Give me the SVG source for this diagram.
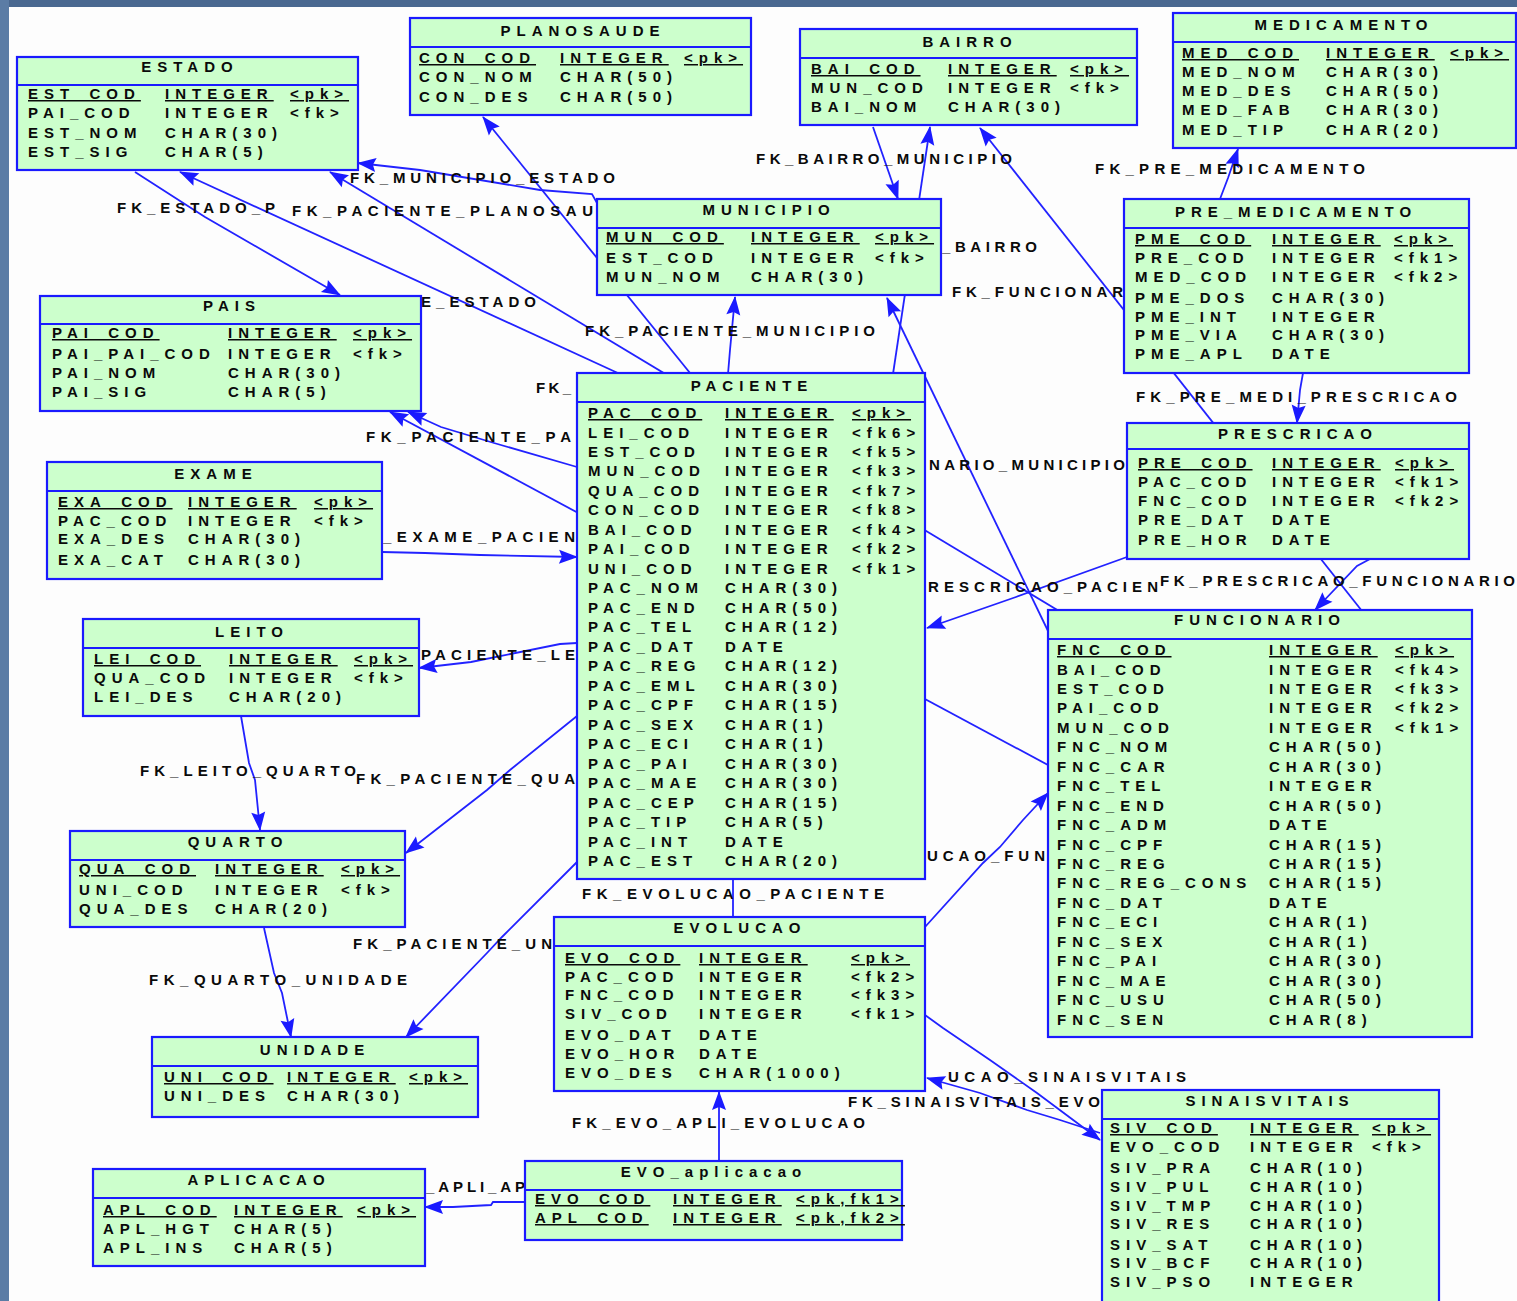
<svg xmlns="http://www.w3.org/2000/svg" width="1517" height="1301" viewBox="0 0 1517 1301">
<style>
.tb{fill:#ccffcc;stroke:#1a1aff;stroke-width:2.2}
.hl{stroke:#1a1aff;stroke-width:2}
.t{font-family:"Liberation Sans",Arial,sans-serif;font-weight:bold;font-size:15px;letter-spacing:6px;fill:#0a0a0a}
.pk{text-decoration:underline}
.ti{text-anchor:middle}
.cn{fill:none;stroke:#2222ff;stroke-width:1.8}
.ar{marker-end:url(#a)}
.lb{font-family:"Liberation Sans",Arial,sans-serif;font-weight:bold;font-size:15px;fill:#0a0a0a}
</style>
<defs>
<marker id="a" viewBox="-20 -9 22 18" refX="0" refY="0" markerWidth="22" markerHeight="18" markerUnits="userSpaceOnUse" orient="auto"><path d="M1,0 L-18,-7 L-15,0 L-18,7 Z" fill="#1a1aff"/></marker>
</defs>
<rect x="0" y="0" width="1517" height="1301" fill="#fdfdfd"/>
<rect x="0" y="0" width="1517" height="7" fill="#4a6890"/>
<rect x="0" y="0" width="9" height="1301" fill="#5b7ca5"/>

<g id="connectors">
<path class="cn ar" d="M597,203 L592,194 L540,190 L420,170 L358,163"/>
<path class="cn ar" d="M135,172 L205,217 L340,295"/>
<path class="cn ar" d="M690,373 L483,117"/>
<path class="cn ar" d="M620,374 L180,172"/>
<path class="cn ar" d="M728,374 L730,350 L735,297"/>
<path class="cn ar" d="M893,374 L930,127"/>
<path class="cn ar" d="M873,127 L898,199"/>
<path class="cn ar" d="M1362,611 L980,128"/>
<path class="cn ar" d="M1049,633 L887,298"/>
<path class="cn ar" d="M1220,199 L1228,178 L1238,149"/>
<path class="cn ar" d="M1303,373 L1300,390 L1297,423"/>
<path class="cn ar" d="M1127,557 L1016,597 L927,628"/>
<path class="cn ar" d="M1370,559 L1357,566 L1315,610"/>
<path class="cn ar" d="M1059,611 L330,172"/>
<path class="cn ar" d="M1048,765 L390,412"/>
<path class="cn ar" d="M577,467 L494,443 L441,427 L408,412"/>
<path class="cn ar" d="M382,552 L425,553 L480,555 L577,557"/>
<path class="cn ar" d="M577,643 L560,644 L471,662 L419,668"/>
<path class="cn ar" d="M241,716 L249,763 L255,780 L260,830"/>
<path class="cn ar" d="M577,716 L510,770 L487,790 L406,853"/>
<path class="cn ar" d="M264,928 L274,973 L282,993 L291,1037"/>
<path class="cn ar" d="M577,862 L502,937 L487,953 L406,1037"/>
<path class="cn" d="M733,917 L733,880"/>
<path class="cn ar" d="M925,927 L983,863 L1000,847 L1023,820 L1048,793"/>
<path class="cn ar" d="M925,1015 L943,1028 L990,1060 L1037,1093 L1100,1140"/>
<path class="cn ar" d="M1100,1133 L1060,1120 L1027,1110 L980,1093 L927,1078"/>
<path class="cn ar" d="M719,1161 L719,1092"/>
<path class="cn ar" d="M525,1202 L493,1202 L491,1205 L453,1207 L425,1207"/>

<text class="lb" x="350" y="183" textLength="265" lengthAdjust="spacing">FK_MUNICIPIO_ESTADO</text>
<text class="lb" x="117" y="213" textLength="158" lengthAdjust="spacing">FK_ESTADO_P</text>
<text class="lb" x="292" y="216" textLength="301" lengthAdjust="spacing">FK_PACIENTE_PLANOSAU</text>
<text class="lb" x="421" y="307" textLength="115" lengthAdjust="spacing">E_ESTADO</text>
<text class="lb" x="536" y="393" textLength="35" lengthAdjust="spacing">FK_</text>
<text class="lb" x="366" y="442" textLength="205" lengthAdjust="spacing">FK_PACIENTE_PA</text>
<text class="lb" x="383" y="542" textLength="192" lengthAdjust="spacing">_EXAME_PACIEN</text>
<text class="lb" x="421" y="660" textLength="154" lengthAdjust="spacing">PACIENTE_LE</text>
<text class="lb" x="140" y="776" textLength="216" lengthAdjust="spacing">FK_LEITO_QUARTO</text>
<text class="lb" x="356" y="784" textLength="219" lengthAdjust="spacing">FK_PACIENTE_QUA</text>
<text class="lb" x="353" y="949" textLength="199" lengthAdjust="spacing">FK_PACIENTE_UN</text>
<text class="lb" x="149" y="985" textLength="258" lengthAdjust="spacing">FK_QUARTO_UNIDADE</text>
<text class="lb" x="756" y="164" textLength="256" lengthAdjust="spacing">FK_BAIRRO_MUNICIPIO</text>
<text class="lb" x="942" y="252" textLength="95" lengthAdjust="spacing">_BAIRRO</text>
<text class="lb" x="952" y="297" textLength="171" lengthAdjust="spacing">FK_FUNCIONAR</text>
<text class="lb" x="585" y="336" textLength="290" lengthAdjust="spacing">FK_PACIENTE_MUNICIPIO</text>
<text class="lb" x="1095" y="174" textLength="270" lengthAdjust="spacing">FK_PRE_MEDICAMENTO</text>
<text class="lb" x="1136" y="402" textLength="321" lengthAdjust="spacing">FK_PRE_MEDI_PRESCRICAO</text>
<text class="lb" x="929" y="470" textLength="196" lengthAdjust="spacing">NARIO_MUNICIPIO</text>
<text class="lb" x="928" y="592" textLength="230" lengthAdjust="spacing">RESCRICAO_PACIEN</text>
<text class="lb" x="1160" y="586" textLength="355" lengthAdjust="spacing">FK_PRESCRICAO_FUNCIONARIO</text>
<text class="lb" x="927" y="861" textLength="118" lengthAdjust="spacing">UCAO_FUN</text>
<text class="lb" x="582" y="899" textLength="302" lengthAdjust="spacing">FK_EVOLUCAO_PACIENTE</text>
<text class="lb" x="948" y="1082" textLength="238" lengthAdjust="spacing">UCAO_SINAISVITAIS</text>
<text class="lb" x="848" y="1107" textLength="252" lengthAdjust="spacing">FK_SINAISVITAIS_EVO</text>
<text class="lb" x="572" y="1128" textLength="293" lengthAdjust="spacing">FK_EVO_APLI_EVOLUCAO</text>
<text class="lb" x="426" y="1192" textLength="99" lengthAdjust="spacing">_APLI_AP</text>
</g>

<g id="ESTADO">
<rect class="tb" x="17" y="57" width="341" height="113"/><line class="hl" x1="17" y1="85" x2="358" y2="85"/>
<text class="t ti" x="190" y="72">ESTADO</text>
<text class="t pk" x="28" y="99">EST_COD</text><text class="t pk" x="165" y="99">INTEGER</text><text class="t pk" x="290" y="99">&lt;pk&gt;</text>
<text class="t" x="28" y="118">PAI_COD</text><text class="t" x="165" y="118">INTEGER</text><text class="t" x="290" y="118">&lt;fk&gt;</text>
<text class="t" x="28" y="138">EST_NOM</text><text class="t" x="165" y="138">CHAR(30)</text>
<text class="t" x="28" y="157">EST_SIG</text><text class="t" x="165" y="157">CHAR(5)</text>
</g>

<g id="PLANOSAUDE">
<rect class="tb" x="410" y="18" width="341" height="97"/><line class="hl" x1="410" y1="47" x2="751" y2="47"/>
<text class="t ti" x="583" y="36">PLANOSAUDE</text>
<text class="t pk" x="419" y="63">CON_COD</text><text class="t pk" x="560" y="63">INTEGER</text><text class="t pk" x="684" y="63">&lt;pk&gt;</text>
<text class="t" x="419" y="82">CON_NOM</text><text class="t" x="560" y="82">CHAR(50)</text>
<text class="t" x="419" y="102">CON_DES</text><text class="t" x="560" y="102">CHAR(50)</text>
</g>

<g id="BAIRRO">
<rect class="tb" x="800" y="29" width="337" height="96"/><line class="hl" x1="800" y1="58" x2="1137" y2="58"/>
<text class="t ti" x="970" y="47">BAIRRO</text>
<text class="t pk" x="811" y="74">BAI_COD</text><text class="t pk" x="948" y="74">INTEGER</text><text class="t pk" x="1070" y="74">&lt;pk&gt;</text>
<text class="t" x="811" y="93">MUN_COD</text><text class="t" x="948" y="93">INTEGER</text><text class="t" x="1070" y="93">&lt;fk&gt;</text>
<text class="t" x="811" y="112">BAI_NOM</text><text class="t" x="948" y="112">CHAR(30)</text>
</g>

<g id="MEDICAMENTO">
<rect class="tb" x="1173" y="13" width="343" height="135"/><line class="hl" x1="1173" y1="42" x2="1516" y2="42"/>
<text class="t ti" x="1344" y="30">MEDICAMENTO</text>
<text class="t pk" x="1182" y="58">MED_COD</text><text class="t pk" x="1326" y="58">INTEGER</text><text class="t pk" x="1450" y="58">&lt;pk&gt;</text>
<text class="t" x="1182" y="77">MED_NOM</text><text class="t" x="1326" y="77">CHAR(30)</text>
<text class="t" x="1182" y="96">MED_DES</text><text class="t" x="1326" y="96">CHAR(50)</text>
<text class="t" x="1182" y="115">MED_FAB</text><text class="t" x="1326" y="115">CHAR(30)</text>
<text class="t" x="1182" y="135">MED_TIP</text><text class="t" x="1326" y="135">CHAR(20)</text>
</g>

<g id="MUNICIPIO">
<rect class="tb" x="597" y="199" width="344" height="96"/><line class="hl" x1="597" y1="228" x2="941" y2="228"/>
<text class="t ti" x="769" y="215">MUNICIPIO</text>
<text class="t pk" x="606" y="242">MUN_COD</text><text class="t pk" x="751" y="242">INTEGER</text><text class="t pk" x="875" y="242">&lt;pk&gt;</text>
<text class="t" x="606" y="263">EST_COD</text><text class="t" x="751" y="263">INTEGER</text><text class="t" x="875" y="263">&lt;fk&gt;</text>
<text class="t" x="606" y="282">MUN_NOM</text><text class="t" x="751" y="282">CHAR(30)</text>
</g>

<g id="PRE_MEDICAMENTO">
<rect class="tb" x="1124" y="199" width="345" height="174"/><line class="hl" x1="1124" y1="228" x2="1469" y2="228"/>
<text class="t ti" x="1296" y="217">PRE_MEDICAMENTO</text>
<text class="t pk" x="1135" y="244">PME_COD</text><text class="t pk" x="1272" y="244">INTEGER</text><text class="t pk" x="1394" y="244">&lt;pk&gt;</text>
<text class="t" x="1135" y="263">PRE_COD</text><text class="t" x="1272" y="263">INTEGER</text><text class="t" x="1394" y="263">&lt;fk1&gt;</text>
<text class="t" x="1135" y="282">MED_COD</text><text class="t" x="1272" y="282">INTEGER</text><text class="t" x="1394" y="282">&lt;fk2&gt;</text>
<text class="t" x="1135" y="303">PME_DOS</text><text class="t" x="1272" y="303">CHAR(30)</text>
<text class="t" x="1135" y="322">PME_INT</text><text class="t" x="1272" y="322">INTEGER</text>
<text class="t" x="1135" y="340">PME_VIA</text><text class="t" x="1272" y="340">CHAR(30)</text>
<text class="t" x="1135" y="359">PME_APL</text><text class="t" x="1272" y="359">DATE</text>
</g>

<g id="PAIS">
<rect class="tb" x="40" y="296" width="381" height="115"/><line class="hl" x1="40" y1="324" x2="421" y2="324"/>
<text class="t ti" x="232" y="311">PAIS</text>
<text class="t pk" x="52" y="338">PAI_COD</text><text class="t pk" x="228" y="338">INTEGER</text><text class="t pk" x="353" y="338">&lt;pk&gt;</text>
<text class="t" x="52" y="359">PAI_PAI_COD</text><text class="t" x="228" y="359">INTEGER</text><text class="t" x="353" y="359">&lt;fk&gt;</text>
<text class="t" x="52" y="378">PAI_NOM</text><text class="t" x="228" y="378">CHAR(30)</text>
<text class="t" x="52" y="397">PAI_SIG</text><text class="t" x="228" y="397">CHAR(5)</text>
</g>

<g id="EXAME">
<rect class="tb" x="47" y="462" width="335" height="117"/><line class="hl" x1="47" y1="491" x2="382" y2="491"/>
<text class="t ti" x="216" y="479">EXAME</text>
<text class="t pk" x="58" y="507">EXA_COD</text><text class="t pk" x="188" y="507">INTEGER</text><text class="t pk" x="314" y="507">&lt;pk&gt;</text>
<text class="t" x="58" y="526">PAC_COD</text><text class="t" x="188" y="526">INTEGER</text><text class="t" x="314" y="526">&lt;fk&gt;</text>
<text class="t" x="58" y="544">EXA_DES</text><text class="t" x="188" y="544">CHAR(30)</text>
<text class="t" x="58" y="565">EXA_CAT</text><text class="t" x="188" y="565">CHAR(30)</text>
</g>

<g id="LEITO">
<rect class="tb" x="83" y="619" width="336" height="97"/><line class="hl" x1="83" y1="648" x2="419" y2="648"/>
<text class="t ti" x="252" y="637">LEITO</text>
<text class="t pk" x="94" y="664">LEI_COD</text><text class="t pk" x="229" y="664">INTEGER</text><text class="t pk" x="354" y="664">&lt;pk&gt;</text>
<text class="t" x="94" y="683">QUA_COD</text><text class="t" x="229" y="683">INTEGER</text><text class="t" x="354" y="683">&lt;fk&gt;</text>
<text class="t" x="94" y="702">LEI_DES</text><text class="t" x="229" y="702">CHAR(20)</text>
</g>

<g id="QUARTO">
<rect class="tb" x="70" y="831" width="335" height="96"/><line class="hl" x1="70" y1="860" x2="405" y2="860"/>
<text class="t ti" x="238" y="847">QUARTO</text>
<text class="t pk" x="79" y="874">QUA_COD</text><text class="t pk" x="215" y="874">INTEGER</text><text class="t pk" x="341" y="874">&lt;pk&gt;</text>
<text class="t" x="79" y="895">UNI_COD</text><text class="t" x="215" y="895">INTEGER</text><text class="t" x="341" y="895">&lt;fk&gt;</text>
<text class="t" x="79" y="914">QUA_DES</text><text class="t" x="215" y="914">CHAR(20)</text>
</g>

<g id="UNIDADE">
<rect class="tb" x="152" y="1037" width="326" height="80"/><line class="hl" x1="152" y1="1066" x2="478" y2="1066"/>
<text class="t ti" x="315" y="1055">UNIDADE</text>
<text class="t pk" x="164" y="1082">UNI_COD</text><text class="t pk" x="287" y="1082">INTEGER</text><text class="t pk" x="409" y="1082">&lt;pk&gt;</text>
<text class="t" x="164" y="1101">UNI_DES</text><text class="t" x="287" y="1101">CHAR(30)</text>
</g>

<g id="PACIENTE">
<rect class="tb" x="577" y="373" width="348" height="506"/><line class="hl" x1="577" y1="402" x2="925" y2="402"/>
<text class="t ti" x="752" y="391">PACIENTE</text>
<text class="t pk" x="588" y="418">PAC_COD</text><text class="t pk" x="725" y="418">INTEGER</text><text class="t pk" x="852" y="418">&lt;pk&gt;</text>
<text class="t" x="588" y="437.5">LEI_COD</text><text class="t" x="725" y="437.5">INTEGER</text><text class="t" x="852" y="437.5">&lt;fk6&gt;</text>
<text class="t" x="588" y="457">EST_COD</text><text class="t" x="725" y="457">INTEGER</text><text class="t" x="852" y="457">&lt;fk5&gt;</text>
<text class="t" x="588" y="476.4">MUN_COD</text><text class="t" x="725" y="476.4">INTEGER</text><text class="t" x="852" y="476.4">&lt;fk3&gt;</text>
<text class="t" x="588" y="495.9">QUA_COD</text><text class="t" x="725" y="495.9">INTEGER</text><text class="t" x="852" y="495.9">&lt;fk7&gt;</text>
<text class="t" x="588" y="515.4">CON_COD</text><text class="t" x="725" y="515.4">INTEGER</text><text class="t" x="852" y="515.4">&lt;fk8&gt;</text>
<text class="t" x="588" y="534.9">BAI_COD</text><text class="t" x="725" y="534.9">INTEGER</text><text class="t" x="852" y="534.9">&lt;fk4&gt;</text>
<text class="t" x="588" y="554.4">PAI_COD</text><text class="t" x="725" y="554.4">INTEGER</text><text class="t" x="852" y="554.4">&lt;fk2&gt;</text>
<text class="t" x="588" y="573.8">UNI_COD</text><text class="t" x="725" y="573.8">INTEGER</text><text class="t" x="852" y="573.8">&lt;fk1&gt;</text>
<text class="t" x="588" y="593.3">PAC_NOM</text><text class="t" x="725" y="593.3">CHAR(30)</text>
<text class="t" x="588" y="612.8">PAC_END</text><text class="t" x="725" y="612.8">CHAR(50)</text>
<text class="t" x="588" y="632.3">PAC_TEL</text><text class="t" x="725" y="632.3">CHAR(12)</text>
<text class="t" x="588" y="651.8">PAC_DAT</text><text class="t" x="725" y="651.8">DATE</text>
<text class="t" x="588" y="671.2">PAC_REG</text><text class="t" x="725" y="671.2">CHAR(12)</text>
<text class="t" x="588" y="690.7">PAC_EML</text><text class="t" x="725" y="690.7">CHAR(30)</text>
<text class="t" x="588" y="710.2">PAC_CPF</text><text class="t" x="725" y="710.2">CHAR(15)</text>
<text class="t" x="588" y="729.7">PAC_SEX</text><text class="t" x="725" y="729.7">CHAR(1)</text>
<text class="t" x="588" y="749.2">PAC_ECI</text><text class="t" x="725" y="749.2">CHAR(1)</text>
<text class="t" x="588" y="768.6">PAC_PAI</text><text class="t" x="725" y="768.6">CHAR(30)</text>
<text class="t" x="588" y="788.1">PAC_MAE</text><text class="t" x="725" y="788.1">CHAR(30)</text>
<text class="t" x="588" y="807.6">PAC_CEP</text><text class="t" x="725" y="807.6">CHAR(15)</text>
<text class="t" x="588" y="827.1">PAC_TIP</text><text class="t" x="725" y="827.1">CHAR(5)</text>
<text class="t" x="588" y="846.6">PAC_INT</text><text class="t" x="725" y="846.6">DATE</text>
<text class="t" x="588" y="866">PAC_EST</text><text class="t" x="725" y="866">CHAR(20)</text>
</g>

<g id="PRESCRICAO">
<rect class="tb" x="1127" y="423" width="342" height="136"/><line class="hl" x1="1127" y1="449" x2="1469" y2="449"/>
<text class="t ti" x="1298" y="439">PRESCRICAO</text>
<text class="t pk" x="1138" y="468">PRE_COD</text><text class="t pk" x="1272" y="468">INTEGER</text><text class="t pk" x="1395" y="468">&lt;pk&gt;</text>
<text class="t" x="1138" y="487">PAC_COD</text><text class="t" x="1272" y="487">INTEGER</text><text class="t" x="1395" y="487">&lt;fk1&gt;</text>
<text class="t" x="1138" y="506">FNC_COD</text><text class="t" x="1272" y="506">INTEGER</text><text class="t" x="1395" y="506">&lt;fk2&gt;</text>
<text class="t" x="1138" y="525">PRE_DAT</text><text class="t" x="1272" y="525">DATE</text>
<text class="t" x="1138" y="545">PRE_HOR</text><text class="t" x="1272" y="545">DATE</text>
</g>

<g id="FUNCIONARIO">
<rect class="tb" x="1048" y="610" width="424" height="427"/><line class="hl" x1="1048" y1="639" x2="1472" y2="639"/>
<text class="t ti" x="1260" y="625">FUNCIONARIO</text>
<text class="t pk" x="1057" y="655">FNC_COD</text><text class="t pk" x="1269" y="655">INTEGER</text><text class="t pk" x="1395" y="655">&lt;pk&gt;</text>
<text class="t" x="1057" y="674.5">BAI_COD</text><text class="t" x="1269" y="674.5">INTEGER</text><text class="t" x="1395" y="674.5">&lt;fk4&gt;</text>
<text class="t" x="1057" y="693.9">EST_COD</text><text class="t" x="1269" y="693.9">INTEGER</text><text class="t" x="1395" y="693.9">&lt;fk3&gt;</text>
<text class="t" x="1057" y="713.4">PAI_COD</text><text class="t" x="1269" y="713.4">INTEGER</text><text class="t" x="1395" y="713.4">&lt;fk2&gt;</text>
<text class="t" x="1057" y="732.8">MUN_COD</text><text class="t" x="1269" y="732.8">INTEGER</text><text class="t" x="1395" y="732.8">&lt;fk1&gt;</text>
<text class="t" x="1057" y="752.3">FNC_NOM</text><text class="t" x="1269" y="752.3">CHAR(50)</text>
<text class="t" x="1057" y="771.7">FNC_CAR</text><text class="t" x="1269" y="771.7">CHAR(30)</text>
<text class="t" x="1057" y="791.2">FNC_TEL</text><text class="t" x="1269" y="791.2">INTEGER</text>
<text class="t" x="1057" y="810.6">FNC_END</text><text class="t" x="1269" y="810.6">CHAR(50)</text>
<text class="t" x="1057" y="830.1">FNC_ADM</text><text class="t" x="1269" y="830.1">DATE</text>
<text class="t" x="1057" y="849.5">FNC_CPF</text><text class="t" x="1269" y="849.5">CHAR(15)</text>
<text class="t" x="1057" y="869">FNC_REG</text><text class="t" x="1269" y="869">CHAR(15)</text>
<text class="t" x="1057" y="888.4">FNC_REG_CONS</text><text class="t" x="1269" y="888.4">CHAR(15)</text>
<text class="t" x="1057" y="907.9">FNC_DAT</text><text class="t" x="1269" y="907.9">DATE</text>
<text class="t" x="1057" y="927.3">FNC_ECI</text><text class="t" x="1269" y="927.3">CHAR(1)</text>
<text class="t" x="1057" y="946.8">FNC_SEX</text><text class="t" x="1269" y="946.8">CHAR(1)</text>
<text class="t" x="1057" y="966.2">FNC_PAI</text><text class="t" x="1269" y="966.2">CHAR(30)</text>
<text class="t" x="1057" y="985.7">FNC_MAE</text><text class="t" x="1269" y="985.7">CHAR(30)</text>
<text class="t" x="1057" y="1005.1">FNC_USU</text><text class="t" x="1269" y="1005.1">CHAR(50)</text>
<text class="t" x="1057" y="1024.6">FNC_SEN</text><text class="t" x="1269" y="1024.6">CHAR(8)</text>
</g>

<g id="EVOLUCAO">
<rect class="tb" x="554" y="917" width="371" height="174"/><line class="hl" x1="554" y1="946" x2="925" y2="946"/>
<text class="t ti" x="740" y="933">EVOLUCAO</text>
<text class="t pk" x="565" y="963">EVO_COD</text><text class="t pk" x="699" y="963">INTEGER</text><text class="t pk" x="851" y="963">&lt;pk&gt;</text>
<text class="t" x="565" y="982">PAC_COD</text><text class="t" x="699" y="982">INTEGER</text><text class="t" x="851" y="982">&lt;fk2&gt;</text>
<text class="t" x="565" y="1000">FNC_COD</text><text class="t" x="699" y="1000">INTEGER</text><text class="t" x="851" y="1000">&lt;fk3&gt;</text>
<text class="t" x="565" y="1019">SIV_COD</text><text class="t" x="699" y="1019">INTEGER</text><text class="t" x="851" y="1019">&lt;fk1&gt;</text>
<text class="t" x="565" y="1040">EVO_DAT</text><text class="t" x="699" y="1040">DATE</text>
<text class="t" x="565" y="1059">EVO_HOR</text><text class="t" x="699" y="1059">DATE</text>
<text class="t" x="565" y="1078">EVO_DES</text><text class="t" x="699" y="1078">CHAR(1000)</text>
</g>

<g id="EVO_aplicacao">
<rect class="tb" x="525" y="1161" width="377" height="79"/><line class="hl" x1="525" y1="1190" x2="902" y2="1190"/>
<text class="t ti" x="714" y="1177">EVO_aplicacao</text>
<text class="t pk" x="535" y="1204">EVO_COD</text><text class="t pk" x="673" y="1204">INTEGER</text><text class="t pk" x="796" y="1204">&lt;pk,fk1&gt;</text>
<text class="t pk" x="535" y="1223">APL_COD</text><text class="t pk" x="673" y="1223">INTEGER</text><text class="t pk" x="796" y="1223">&lt;pk,fk2&gt;</text>
</g>

<g id="APLICACAO">
<rect class="tb" x="93" y="1169" width="332" height="97"/><line class="hl" x1="93" y1="1198" x2="425" y2="1198"/>
<text class="t ti" x="259" y="1185">APLICACAO</text>
<text class="t pk" x="103" y="1215">APL_COD</text><text class="t pk" x="234" y="1215">INTEGER</text><text class="t pk" x="357" y="1215">&lt;pk&gt;</text>
<text class="t" x="103" y="1234">APL_HGT</text><text class="t" x="234" y="1234">CHAR(5)</text>
<text class="t" x="103" y="1253">APL_INS</text><text class="t" x="234" y="1253">CHAR(5)</text>
</g>

<g id="SINAISVITAIS">
<rect class="tb" x="1102" y="1090" width="337" height="230"/><line class="hl" x1="1102" y1="1119" x2="1439" y2="1119"/>
<text class="t ti" x="1270" y="1106">SINAISVITAIS</text>
<text class="t pk" x="1110" y="1133">SIV_COD</text><text class="t pk" x="1250" y="1133">INTEGER</text><text class="t pk" x="1372" y="1133">&lt;pk&gt;</text>
<text class="t" x="1110" y="1152">EVO_COD</text><text class="t" x="1250" y="1152">INTEGER</text><text class="t" x="1372" y="1152">&lt;fk&gt;</text>
<text class="t" x="1110" y="1173">SIV_PRA</text><text class="t" x="1250" y="1173">CHAR(10)</text>
<text class="t" x="1110" y="1192">SIV_PUL</text><text class="t" x="1250" y="1192">CHAR(10)</text>
<text class="t" x="1110" y="1211">SIV_TMP</text><text class="t" x="1250" y="1211">CHAR(10)</text>
<text class="t" x="1110" y="1229">SIV_RES</text><text class="t" x="1250" y="1229">CHAR(10)</text>
<text class="t" x="1110" y="1250">SIV_SAT</text><text class="t" x="1250" y="1250">CHAR(10)</text>
<text class="t" x="1110" y="1268">SIV_BCF</text><text class="t" x="1250" y="1268">CHAR(10)</text>
<text class="t" x="1110" y="1287">SIV_PSO</text><text class="t" x="1250" y="1287">INTEGER</text>
</g>
</svg>
